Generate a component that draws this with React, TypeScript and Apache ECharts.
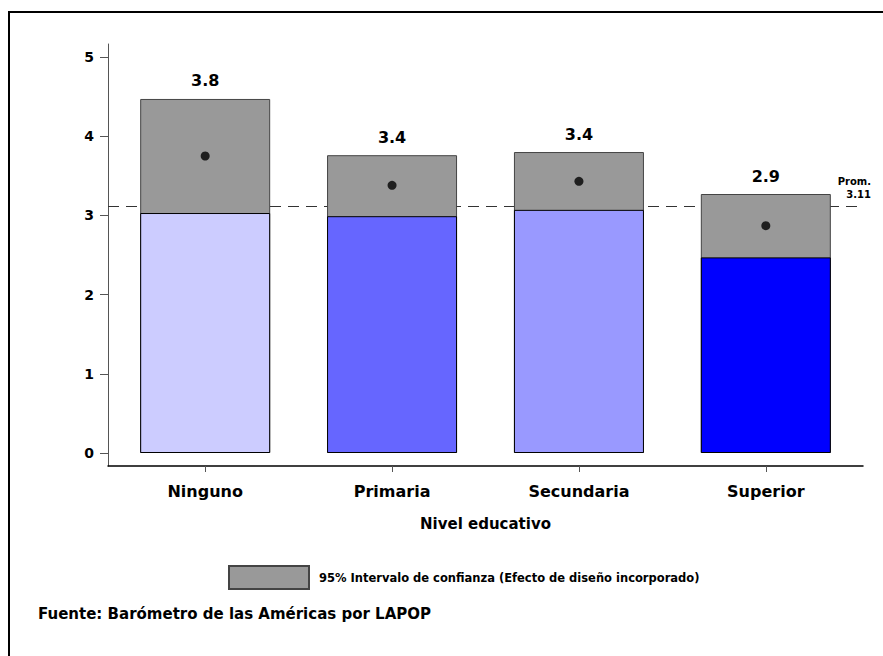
import React, { useEffect, useRef } from "react";
import * as echarts from "echarts";

const categories = ["Ninguno", "Primaria", "Secundaria", "Superior"];
const means = [3.75, 3.38, 3.43, 2.87];
const meanLabels = ["3.8", "3.4", "3.4", "2.9"];
const lowerCI = [3.03, 2.99, 3.07, 2.47];
const upperCI = [4.47, 3.76, 3.8, 3.27];
const barColors = ["#ccccff", "#6666ff", "#9999ff", "#0000ff"];
const average = 3.11;
const yTicks = [0, 1, 2, 3, 4, 5];
const ciName = "95% Intervalo de confianza (Efecto de diseño incorporado)";
const sourceText = "Fuente: Barómetro de las Américas por LAPOP";

const FONT = "'DejaVu Sans', 'Liberation Sans', Arial, sans-serif";

export default function App() {
  const ref = useRef<HTMLDivElement>(null);
  useEffect(() => {
    if (!ref.current) return;
    const chart = echarts.init(ref.current, null, { renderer: "svg" });
    const xIdx = categories.map((_, i) => i);
    chart.setOption({
      animation: false,
      backgroundColor: "#fff",
      textStyle: { fontFamily: FONT },
      grid: { left: 108, top: 44, right: 20, bottom: 190 },
      legend: {
        data: [ciName],
        left: 228,
        top: 565,
        padding: 0,
        itemWidth: 80,
        itemHeight: 23,
        icon: "rect",
        selectedMode: false,
        textStyle: {
          fontFamily: FONT,
          fontWeight: "bold",
          fontSize: 11.5,
          color: "#000",
          padding: [0, 0, 0, 5],
        },
      },
      xAxis: {
        type: "value",
        min: -0.52,
        max: 3.52,
        splitLine: { show: false },
        axisLine: { show: true, onZero: false, lineStyle: { color: "#000", width: 1.5 } },
        axisTick: { show: true, customValues: xIdx, length: 6, lineStyle: { color: "#555" } },
        axisLabel: {
          customValues: xIdx,
          formatter: (v: number) => categories[Math.round(v)],
          fontFamily: FONT,
          fontWeight: "bold",
          fontSize: 16,
          color: "#000",
          margin: 17,
        },
        name: "Nivel educativo",
        nameLocation: "middle",
        nameGap: 50,
        nameTextStyle: { fontFamily: FONT, fontWeight: "bold", fontSize: 15, color: "#000" },
      },
      yAxis: {
        type: "value",
        min: -0.164,
        max: 5.164,
        splitLine: { show: false },
        axisLine: { show: true, onZero: false, lineStyle: { color: "#555", width: 1 } },
        axisTick: { show: true, customValues: yTicks, length: 8, lineStyle: { color: "#555" } },
        axisLabel: {
          customValues: yTicks,
          fontFamily: FONT,
          fontWeight: "bold",
          fontSize: 14,
          color: "#000",
          margin: 14,
        },
      },
      series: [
        {
          type: "line",
          data: [],
          z: 1,
          silent: true,
          markLine: {
            z: 1,
            silent: true,
            symbol: "none",
            label: { show: false },
            lineStyle: { type: [11, 7], color: "#333", width: 1 },
            data: [[{ coord: [-0.52, average] }, { coord: [3.5, average] }]],
          },
        },
        {
          name: ciName,
          type: "bar",
          z: 2,
          barWidth: 130,
          data: upperCI.map((u, i) => [i, u]),
          itemStyle: { color: "#999999", borderColor: "#444", borderWidth: 1 },
          label: {
            show: true,
            position: "top",
            distance: 10,
            formatter: (p: any) => meanLabels[p.dataIndex],
            fontFamily: FONT,
            fontWeight: "bold",
            fontSize: 16,
            color: "#000",
          },
        },
        {
          name: "base",
          type: "bar",
          z: 3,
          barWidth: 130,
          barGap: "-100%",
          data: lowerCI.map((l, i) => ({ value: [i, l], itemStyle: { color: barColors[i] } })),
          itemStyle: { borderColor: "#000", borderWidth: 1 },
        },
        {
          name: "mean",
          type: "scatter",
          z: 4,
          symbol: "circle",
          symbolSize: 9,
          data: means.map((m, i) => [i, m]),
          itemStyle: { color: "#000" },
        },
      ],
      graphic: [
        {
          type: "rect",
          shape: { x: 9, y: 12, width: 900, height: 700 },
          style: { fill: "none", stroke: "#000", lineWidth: 2 },
          silent: true,
        },
        {
          type: "text",
          x: 871,
          y: 175,
          style: {
            text: `Prom.\n${average}`,
            textAlign: "right",
            font: `bold 10px ${FONT}`,
            lineHeight: 13,
            fill: "#000",
          },
        },
        {
          type: "text",
          x: 38,
          y: 606,
          style: {
            text: sourceText,
            font: `bold 15px ${FONT}`,
            fill: "#000",
          },
        },
      ],
    });
    return () => chart.dispose();
  }, []);
  return (
    <div
      ref={ref}
      style={{ position: "fixed", left: 0, top: 0, width: 883, height: 656 }}
    />
  );
}
